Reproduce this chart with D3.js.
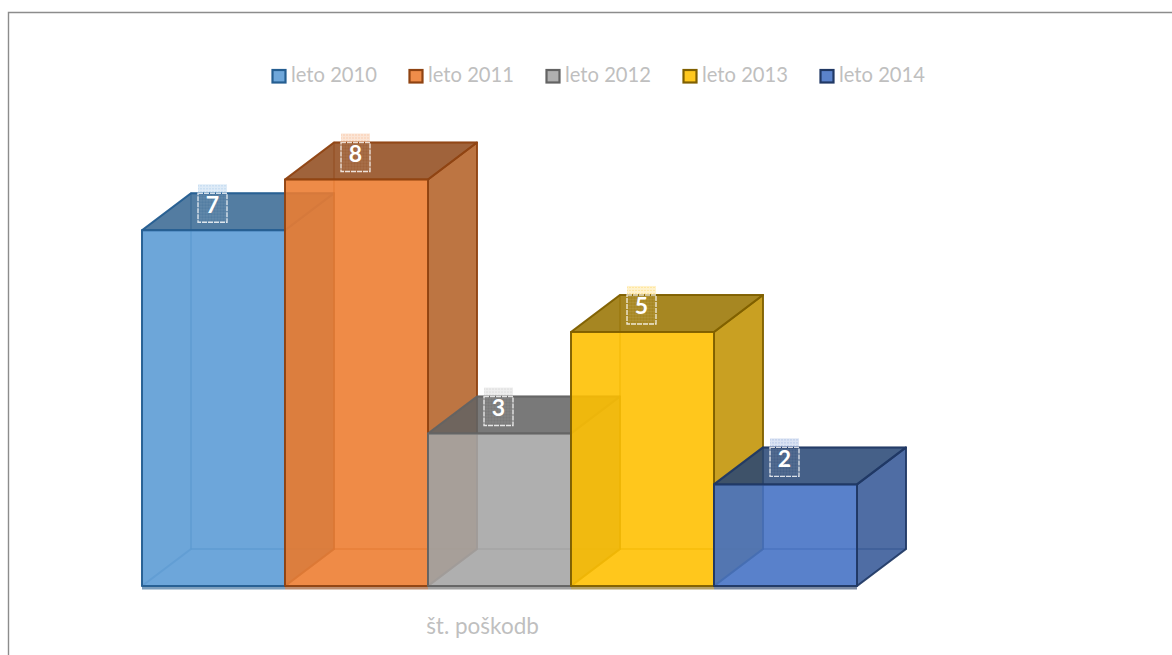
<!DOCTYPE html>
<html>
<head>
<meta charset="utf-8">
<script src="https://d3js.org/d3.v7.min.js"></script>
<style>
html, body { margin: 0; padding: 0; background: #fff; overflow: hidden; }
svg { display: block; font-family: Lato, sans-serif; }
</style>
</head>
<body>
<svg id="chart" width="1172" height="655"></svg>
<script>
const seriesNames = ['leto 2010', 'leto 2011', 'leto 2012', 'leto 2013', 'leto 2014']
const seriesValues = [7, 8, 3, 5, 2]
const categoryLabel = 'št. poškodb'

const fillColors = ['#5b9bd5', '#ed7d31', '#a5a5a5', '#ffc000', '#4472c4']
const edgeColors = ['#255e91', '#8f4312', '#636363', '#806000', '#203864']
const topColors = ['#386792', '#8f4a1c', '#636363', '#987300', '#284674']
const sideColors = ['#44759f', '#b25f25', '#7c7c7c', '#c09000', '#345695']

const width = 1172,
    height = 655,
    depthX = 49,
    depthY = 37

const svg = d3.select('#chart')

const x = d3.scaleBand()
    .domain(seriesNames)
    .range([142, 857])
    .padding(0)

const y = d3.scaleLinear()
    .domain([0, 8])
    .range([586, 179.5])

const legendX = d3.scalePoint()
    .domain(seriesNames)
    .range([271.5, 819.5])

// hatch used behind the data labels
const defs = svg.append('defs')
const whiteGrid = defs.append('pattern')
    .attr('id', 'label-grid')
    .attr('width', 3).attr('height', 3)
    .attr('patternUnits', 'userSpaceOnUse')
whiteGrid.append('path')
    .attr('d', 'M3 0H0V3')
    .attr('fill', 'none')
    .attr('stroke', '#fff')
    .attr('stroke-opacity', 0.12)

seriesNames.forEach((name, i) => {
    const p = defs.append('pattern')
        .attr('id', 'strip-' + i)
        .attr('width', 3).attr('height', 3)
        .attr('patternUnits', 'userSpaceOnUse')
    p.append('rect').attr('width', 3).attr('height', 3)
        .attr('fill', fillColors[i]).attr('fill-opacity', 0.2)
    p.append('rect').attr('width', 1).attr('height', 1)
        .attr('fill', fillColors[i]).attr('fill-opacity', 0.45)
})

// chart frame, only the top and left side are in the shot
svg.append('path')
    .attr('d', `M8.5 ${height}V12.5H${width}`)
    .attr('fill', 'none')
    .attr('stroke', '#8c8c8c')
    .attr('stroke-width', 1.4)

const poly = pts => 'M' + pts.map(p => p.join(',')).join('L') + 'Z'

const bars = svg.append('g')
    .selectAll('g')
    .data(seriesNames)
    .enter()
    .append('g')

bars.each(function (name, i) {
    const g = d3.select(this)
    const x0 = x(name),
        x1 = x0 + x.bandwidth(),
        y0 = y(0),
        y1 = y(seriesValues[i])
    const face = (pts, fill, opacity, edgeOpacity) => g.append('path')
        .attr('d', poly(pts))
        .attr('fill', fill)
        .attr('fill-opacity', opacity)
        .attr('stroke', edgeColors[i])
        .attr('stroke-opacity', edgeOpacity)
        .attr('stroke-width', 2)
        .attr('stroke-linejoin', 'round')

    // back, left and floor are the faint inner faces
    face([[x0 + depthX, y0 - depthY], [x1 + depthX, y0 - depthY], [x1 + depthX, y1 - depthY], [x0 + depthX, y1 - depthY]], fillColors[i], 0.12, 0.25)
    face([[x0, y0], [x0 + depthX, y0 - depthY], [x0 + depthX, y1 - depthY], [x0, y1]], topColors[i], 0.1, 0.25)
    face([[x0, y0], [x1, y0], [x1 + depthX, y0 - depthY], [x0 + depthX, y0 - depthY]], fillColors[i], 0.12, 0.25)
    // right and top
    face([[x1, y0], [x1 + depthX, y0 - depthY], [x1 + depthX, y1 - depthY], [x1, y1]], sideColors[i], 0.85, 0.9)
    face([[x0, y1], [x1, y1], [x1 + depthX, y1 - depthY], [x0 + depthX, y1 - depthY]], topColors[i], 0.85, 0.95)
    // front
    face([[x0, y0], [x1, y0], [x1, y1], [x0, y1]], fillColors[i], 0.88, 0.95)
    // shadow strip along the base
    g.append('rect')
        .attr('x', x0).attr('y', y0)
        .attr('width', x.bandwidth()).attr('height', 3.5)
        .attr('fill', edgeColors[i]).attr('fill-opacity', 0.6)
})

// data labels
const labels = svg.append('g')
    .selectAll('g')
    .data(seriesNames)
    .enter()
    .append('g')
    .attr('transform', d => `translate(${x(d) + x.bandwidth() / 2 - 1},${y(seriesValues[seriesNames.indexOf(d)])})`)

labels.append('rect')
    .attr('x', -14.5).attr('y', -46)
    .attr('width', 29).attr('height', 9)
    .attr('fill', (d, i) => `url(#strip-${i})`)

labels.append('rect')
    .attr('x', -14.5).attr('y', -37)
    .attr('width', 29).attr('height', 29)
    .attr('fill', 'url(#label-grid)')
    .attr('stroke', '#fff')
    .attr('stroke-opacity', 0.8)
    .attr('stroke-width', 1.4)
    .attr('stroke-dasharray', '5 1')

labels.append('text')
    .attr('x', 0).attr('y', -15.5)
    .attr('text-anchor', 'middle')
    .attr('fill', '#fff')
    .attr('font-size', 23)
    .attr('font-weight', 700)
    .attr('dy', '-2')
    .text((d, i) => seriesValues[i])

// legend
const legend = svg.append('g')
    .selectAll('g')
    .data(seriesNames)
    .enter()
    .append('g')
    .attr('transform', d => `translate(${legendX(d)},69)`)

legend.append('rect')
    .attr('x', 1).attr('y', 1)
    .attr('width', 13).attr('height', 12.5)
    .attr('fill', (d, i) => fillColors[i])
    .attr('fill-opacity', 0.88)
    .attr('stroke', (d, i) => edgeColors[i])
    .attr('stroke-width', 2.2)

legend.append('text')
    .attr('x', 19.5).attr('y', 13)
    .attr('fill', '#bfbfbf')
    .attr('font-size', 20.2)
    .text(d => d)

svg.append('text')
    .attr('x', 482.5).attr('y', 634)
    .attr('text-anchor', 'middle')
    .attr('fill', '#bfbfbf')
    .attr('font-size', 22.5)
    .text(categoryLabel)
</script>
</body>
</html>
